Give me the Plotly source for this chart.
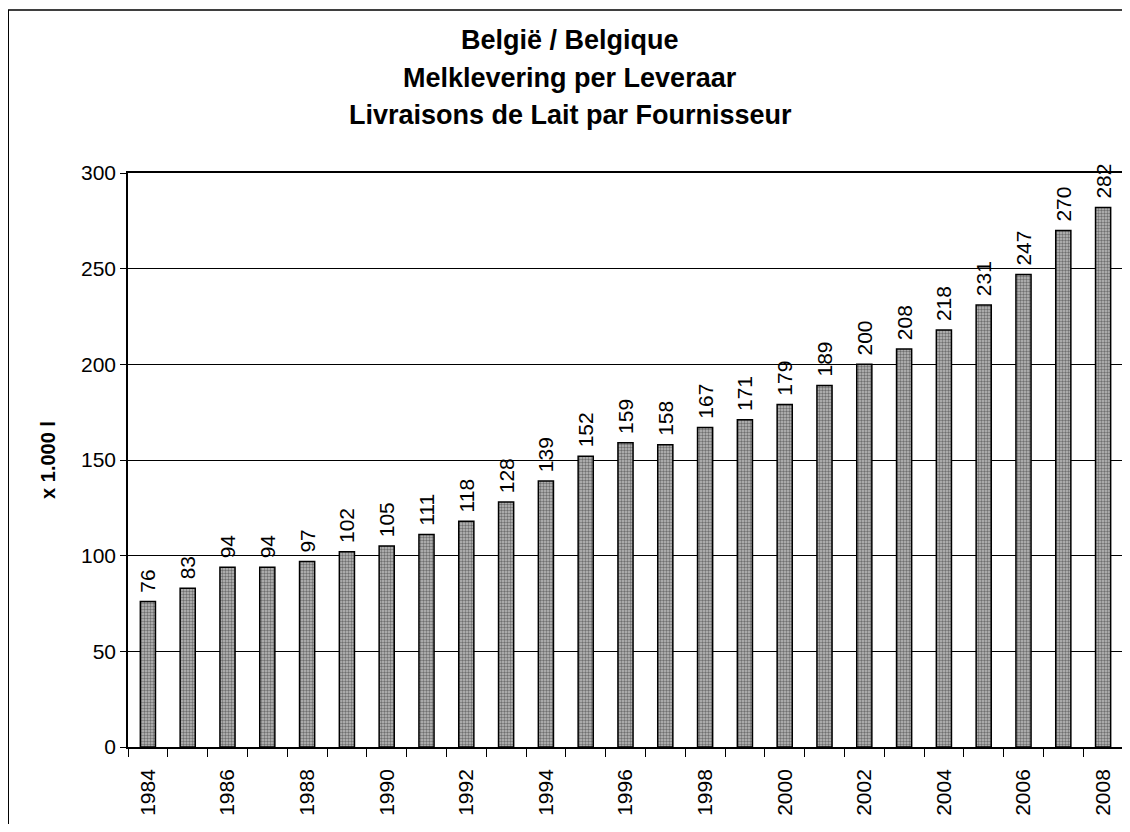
import plotly.graph_objects as go

years = list(range(1984, 2009))
values = [76, 83, 94, 94, 97, 102, 105, 111, 118, 128, 139, 152, 159, 158,
          167, 171, 179, 189, 200, 208, 218, 231, 247, 270, 282]
title_lines = ["België / Belgique", "Melklevering per Leveraar",
               "Livraisons de Lait par Fournisseur"]
y_title = "x 1.000 l"
x_tickvals = list(range(1984, 2009, 2))

FONT = "Liberation Sans, Arial, sans-serif"
OFF = 8  # page body margin
W, H = 1122, 816
# page coordinates of plot area
PL, PR, PT, PB = 128, 1125, 173, 747
L, T = PL - OFF, PT - OFF
R = W - (PR - OFF)
B = H - (PB - OFF)
pw, ph = PR - PL, PB - PT

fig = go.Figure()
fig.add_trace(go.Bar(
    x=years, y=values, width=0.38,
    marker=dict(color="#999999", line=dict(color="black", width=1.5),
                pattern=dict(shape=".", fgcolor="#222222", bgcolor="#bdbdbd",
                             size=3, solidity=0.5)),
    text=["\u00a0" + str(v) for v in values], textposition="outside", textangle=-90,
    textfont=dict(family=FONT, size=21, color="black"),
    constraintext="none", cliponaxis=False, showlegend=False,
))

def px(x):
    return (x - PL) / pw

def py(y):
    return (PB - y) / ph

annotations = []
for line, yc in zip(title_lines, [40, 78, 115]):
    annotations.append(dict(text="<b>%s</b>" % line, x=px(571), y=py(yc),
                            xref="paper", yref="paper", showarrow=False,
                            xanchor="center", yanchor="middle",
                            font=dict(family=FONT, size=27, color="black")))

fig.update_layout(
    width=W, height=H,
    margin=dict(l=L, r=R, t=T, b=B),
    paper_bgcolor="white", plot_bgcolor="white",
    font=dict(family=FONT, color="black"),
    annotations=annotations,
    shapes=[dict(type="rect", xref="paper", yref="paper",
                 x0=px(8), x1=px(1160), y0=py(10), y1=py(900),
                 line=dict(color="black", width=1.5), layer="below")],
)
fig.update_xaxes(
    range=[1983.5, 2008.5], tickmode="array", tickvals=x_tickvals,
    ticktext=[str(v) for v in x_tickvals], tickangle=-90,
    ticks="outside", ticklen=12, tickcolor="rgba(0,0,0,0)",
    tickfont=dict(family=FONT, size=21, color="black"),
    showline=True, linecolor="black", linewidth=1.5, mirror=True,
    showgrid=False, zeroline=False,
    minor=dict(ticks="outside", tick0=1983.5, dtick=1, ticklen=8,
               tickcolor="black", tickwidth=1, showgrid=False),
)
fig.update_yaxes(
    range=[0, 300], dtick=50, ticks="outside", ticklen=6, tickcolor="black",
    tickfont=dict(family=FONT, size=21, color="black"),
    showline=True, linecolor="black", linewidth=1.5, mirror=True,
    showgrid=True, gridcolor="black", gridwidth=1, zeroline=False,
    title=dict(text="<b>%s</b>" % y_title, font=dict(family=FONT, size=20, color="black"),
               standoff=20),
)

fig.write_html("out.html")
